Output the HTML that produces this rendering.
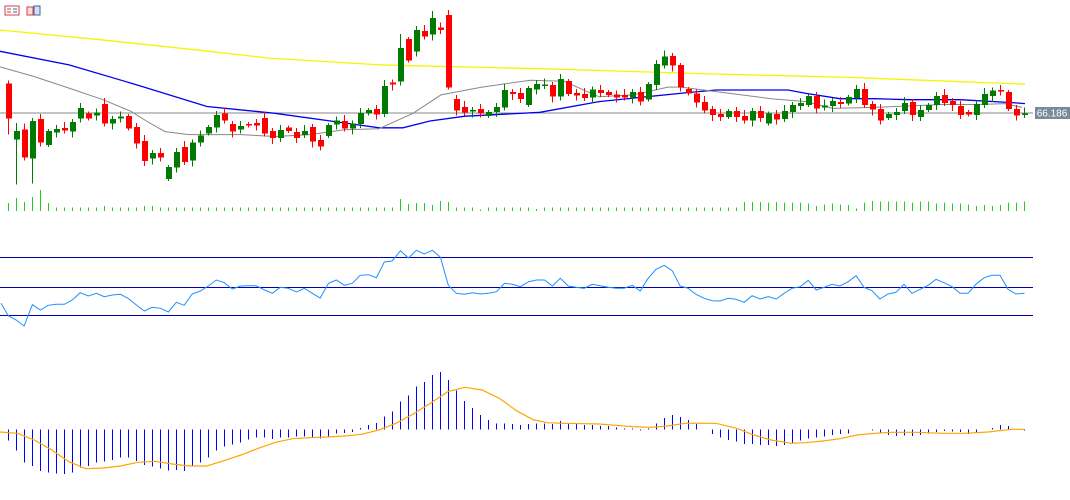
<!DOCTYPE html>
<html><head><meta charset="utf-8"><style>
html,body{margin:0;padding:0;background:#fff;width:1070px;height:500px;overflow:hidden}
svg{display:block}
</style></head><body>
<svg id="c" width="1070" height="500" xmlns="http://www.w3.org/2000/svg" font-family="Liberation Sans, sans-serif">
<g shape-rendering="crispEdges">
<rect x="5" y="6" width="14" height="9" fill="#fff" stroke="#c44" stroke-width="1"/>
<line x1="7" y1="9" x2="11" y2="9" stroke="#c44"/><line x1="7" y1="12" x2="11" y2="12" stroke="#c44"/>
<line x1="13" y1="9" x2="17" y2="9" stroke="#36a"/><line x1="13" y1="12" x2="17" y2="12" stroke="#36a"/>
<rect x="27" y="7" width="6" height="8" fill="#fdd" stroke="#c44"/>
<rect x="34" y="6" width="6" height="9" fill="#dde" stroke="#36a"/>
</g>
<g id="g"></g>
<rect x="1035" y="107" width="35" height="12" fill="#7a8a9a"/>
<text x="1052" y="116.5" font-size="10" fill="#fff" text-anchor="middle">66.186</text>
</svg>
<script>
const S=2.904,SY=3,NS="http://www.w3.org/2000/svg",G=document.getElementById('g');
function el(t,a){const e=document.createElementNS(NS,t);for(const k in a)e.setAttribute(k,a[k]);G.appendChild(e);return e;}
function rl(pts,col,w){el('polyline',{points:pts.map(p=>p[0].toFixed(1)+','+p[1].toFixed(1)).join(' '),fill:'none',stroke:col,'stroke-width':w});}
const K=S/SY;
function ml(pts,col,w){rl(pts.map(p=>[p[0],p[1]*K]),col,w);}
el('line',{x1:0,y1:113,x2:1033,y2:113,stroke:'#8a8a8a','stroke-width':1,'shape-rendering':'crispEdges'});
ml([[0,31],[100,41],[200,52],[269,60],[380,67],[540,71],[700,76],[850,80],[1025,87]],'#f5f500',1.3);
ml([[0,53],[69,67],[138,88],[207,110],[275,117],[344,127],[379,132],[403,132],[430,125],[465,120],[540,116],[599,105],[685,96],[716,93],[788,93],[806,96.5],[840,102],[874,102],[909,103],[960,103],[1012,106],[1025,107]],'#0000ee',1.3);
ml([[0,69],[34,79],[69,91],[103,103],[131,115],[148,126],[165,136],[189,139],[241,139],[275,141],[310,139],[344,134],[379,133],[413,117],[441,98],[482,90],[530,83],[564,84],[599,100],[633,98],[668,90],[681,90],[719,95],[771,102],[806,105],[833,112],[874,111],[943,108],[978,108],[1005,107],[1022,111]],'#888',1);
const A=[[250,355,'r'],[393,418,'g'],[388,473,'r'],[363,476,'g'],[357,428,'r'],[393,435,'g'],[387,398,'g'],[384,391,'r'],[366,395,'g'],[324,355,'g'],[340,356,'r'],[337,347,'g'],[312,371,'r'],[357,371,'g'],[350,355,'g'],[348,386,'r'],[381,431,'r'],[423,483,'r'],[459,475,'g'],[459,473,'r'],[501,537,'g'],[456,503,'g'],[441,486,'r'],[427,482,'g'],[407,428,'g'],[381,401,'g'],[345,383,'g'],[340,362,'r'],[372,395,'r'],[378,389,'g'],[372,377,'r'],[369,377,'r'],[354,401,'r'],[393,414,'r'],[390,414,'g'],[383,393,'r'],[396,414,'r'],[393,405,'g'],[381,425,'r'],[420,440,'r'],[375,408,'g'],[361,374,'g'],[363,386,'r'],[371,386,'g'],[339,372,'g'],[330,341,'g'],[327,344,'r'],[258,342,'g'],[248,254,'r'],[144,245,'g'],[117,182,'r'],[90,155,'g'],[93,110,'r'],[54,104,'g'],[82,90,'r'],[45,263,'r'],[297,332,'r'],[321,338,'r'],[330,335,'g'],[327,341,'r'],[336,348,'g'],[321,336,'g'],[270,322,'g'],[276,282,'r'],[279,297,'r'],[264,315,'g'],[252,268,'g'],
[253,258,'g'],[255,290,'r'],[237,289,'g'],[243,282,'r'],[279,287,'r'],[282,294,'r'],[269,293,'g'],[270,279,'r'],[276,285,'r'],[283,292,'r'],[285,293,'r'],[276,293,'g'],[276,305,'r'],[252,298,'g'],[192,255,'g'],[170,197,'g'],[168,197,'r'],[195,262,'r'],[267,280,'r'],[280,308,'r'],[306,332,'r'],[327,345,'r'],[342,351,'r'],[333,351,'g'],[333,351,'r'],[348,362,'r'],[333,362,'g'],[333,354,'r'],[341,371,'g'],[342,359,'r'],[333,357,'g'],[315,336,'g'],[309,318,'g'],[288,315,'g'],[288,326,'r'],[317,323,'g'],[303,318,'g'],[306,312,'r'],[291,311,'g'],[267,294,'g'],[267,315,'r'],[312,329,'r'],[327,362,'r'],[342,354,'g'],[336,345,'g'],[309,333,'g'],[306,345,'r'],[330,351,'g'],[315,330,'g'],[288,315,'g'],[285,309,'r'],[303,315,'r'],[318,345,'r'],[336,343,'r'],[312,345,'g'],[282,315,'g'],[272,288,'g'],[270,275,'r'],[276,327,'r'],[327,347,'r'],[340,345,'g']];
const WU={0:3,1:8,49:14,53:7,55:5,83:3,84:2},WD={0:16,1:45,3:25,17:5,20:2};
const v2=[27,27,27,25,27,25,25,25,22,15,20,22,20,18,8,25,30,28,28,28,28,25,28,28,22,25,22,22,20,15,18,15,18,25,25,28];
const VO={0:8,1:13,2:9,3:14,4:21,5:8,12:5,17:5,18:5,49:12,50:7,51:8,52:8,53:6,54:10,55:9,59:1.5,66:2};
A.forEach((c,i)=>{const x=Math.round(8.3+i*8.0);const t=c[0]/SY,b=c[1]/SY,col=c[2]=='g'?'#007a00':'#ff0000';
 const wu=WU[i]!==undefined?WU[i]:2+(i*7%5),wd=WD[i]!==undefined?WD[i]:2+(i*3%5);
 el('line',{x1:x+0.5,y1:t-wu,x2:x+0.5,y2:b+wd,stroke:col,'stroke-width':1,'shape-rendering':'crispEdges'});
 el('rect',{x:x-2,y:t,width:6,height:Math.max(1.5,b-t),fill:col,'shape-rendering':'crispEdges'});
 let h=3.5;if(VO[i]!==undefined)h=VO[i];
 if(i>=92&&i<128)h=v2[i-92]/SY;
 el('line',{x1:x+0.5,y1:211-h,x2:x+0.5,y2:211,stroke:'#22cc22','stroke-width':1,'shape-rendering':'crispEdges'});
});
[257,287,315].forEach(y=>el('line',{x1:0,y1:y+0.5,x2:1033,y2:y+0.5,stroke:'#0000b0','stroke-width':1,'shape-rendering':'crispEdges'}));
const R1=[[3,370],[24,407],[47,420],[70,438],[94,374],[117,390],[140,376],[163,373],[187,373],[210,360],[233,338],[256,348],[280,340],[303,350],[326,345],[349,343],[372,355],[396,375],[419,393],[442,382],[466,385],[489,396],[512,367],[535,376],[558,342],[582,333],[605,318],[628,300],[651,308],[675,327],[698,318],[721,317],[744,317],[768,330],[791,340],[814,322],[837,325],[861,336],[884,325],[907,340],[930,354],[954,310],[977,300],[1000,316],[1023,310],[1046,286],[1070,284],[1093,293],[1116,246],[1139,243],[1163,212],[1186,234],[1209,211],[1232,222],[1256,211],[1279,232],[1302,316],[1325,340],[1349,343],[1372,338],[1395,342],[1418,340],[1442,335],[1465,310],[1488,313],[1511,320],[1535,305],[1558,300]];
const R2=[[42,300],[65,318],[88,295],[111,318],[134,322],[157,325],[181,313],[204,317],[227,322],[250,325],[273,325],[297,316],[320,333],[343,295],[366,268],[390,256],[413,272],[436,318],[459,325],[482,343],[506,355],[529,362],[552,363],[575,355],[598,358],[622,367],[645,347],[668,357],[692,350],[715,357],[738,340],[761,325],[785,320],[808,301],[831,330],[854,322],[877,313],[900,318],[924,305],[947,287],[970,322],[993,332],[1016,357],[1040,342],[1063,337],[1086,313],[1109,340],[1133,328],[1156,316],[1179,298],[1202,308],[1226,320],[1249,340],[1272,340],[1295,313],[1319,293],[1342,286],[1365,286],[1388,328],[1411,342],[1436,340]];
rl(R1.map(p=>[p[0]/S,180+p[1]/SY]).concat(R2.map(p=>[530+p[0]/S,180+p[1]/SY])),'#1e90ff',1);
const M=[302,332,368,378,393,398,400,402,398,382,378,368,365,360,353,353,363,375,380,386,392,390,393,378,368,353,332,320,313,308,298,293,293,297,293,292,290,290,292,296,292,281,279,276,264,255,249,230,215,185,167,140,126,105,96,120,152,183,204,225,240,250,250,252,255,252,250,
250,252,243,252,252,255,255,258,258,262,265,265,272,265,250,234,225,231,240,252,268,282,293,300,305,312,312,315,315,318,315,310,302,295,293,290,285,282,280,268,268,272,278,285,288,286,288,285,280,276,273,274,276,282,278,268,264,255,258,268,272];
M.forEach((z,i)=>{const x=Math.round(8.3+i*8.0);const y0=340+268/SY,y=340+z/SY;if(Math.abs(y-y0)<0.8)return;
 el('line',{x1:x+0.5,y1:Math.min(y,y0),x2:x+0.5,y2:Math.max(y,y0),stroke:'#0000ff','stroke-width':1,'shape-rendering':'crispEdges'});});
const S1=[[0,276],[50,280],[100,300],[150,330],[200,365],[250,386],[300,384],[350,378],[400,367],[450,364],[500,372],[550,378],[600,378],[650,362],[700,345],[750,325],[800,307],[850,296],[900,293],[950,291],[1000,288],[1050,283],[1100,270],[1150,250],[1200,222],[1250,190],[1300,155],[1350,142],[1400,150],[1450,175],[1500,212],[1550,240],[1568,243]];
const S2=[[50,248],[100,250],[200,252],[300,260],[350,262],[400,258],[450,250],[540,250],[600,265],[650,285],[700,300],[760,310],[800,308],[850,303],[900,296],[950,285],[1000,280],[1050,277],[1120,277],[1200,280],[1260,280],[1330,276],[1400,268],[1436,268]];
rl(S1.map(p=>[p[0]/S,340+p[1]/SY]).concat(S2.map(p=>[530+p[0]/S,340+p[1]/SY])),'#ffa500',1.2);
</script>
</body></html>
